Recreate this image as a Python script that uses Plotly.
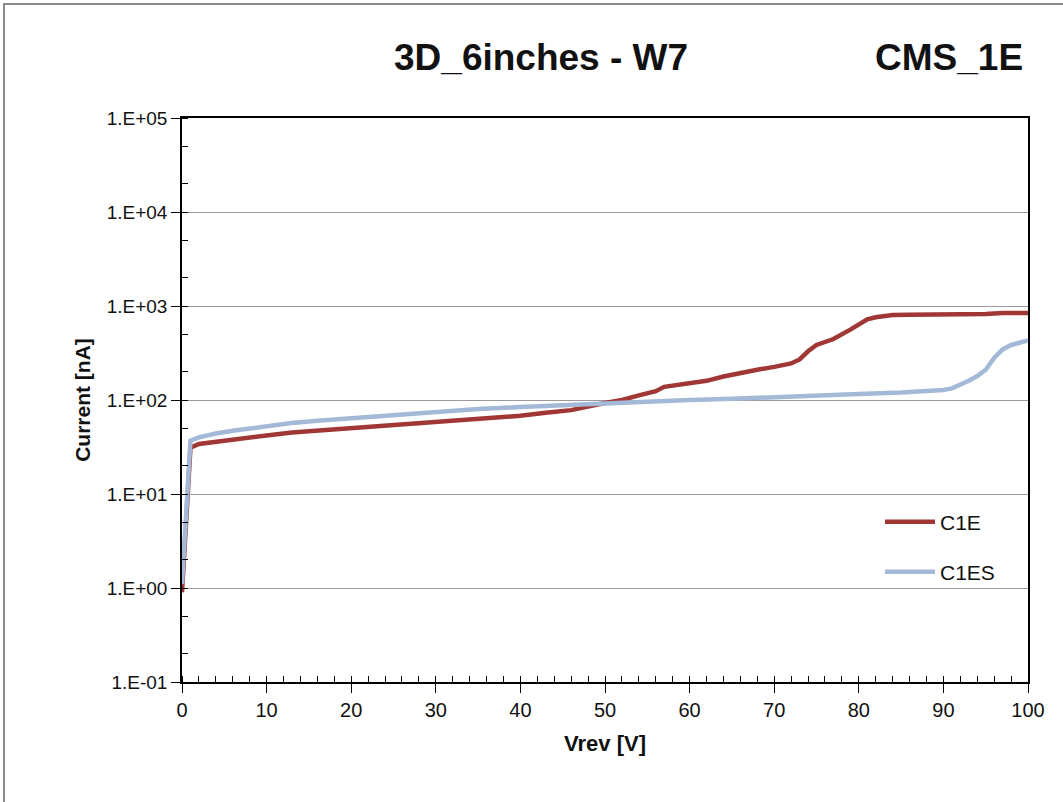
import plotly.graph_objects as go

# C1E
v_c1e = [0, 1, 2, 4, 6, 8, 10, 13, 16, 20, 25, 30, 35, 40, 43, 46, 50, 52, 54, 56,
         57, 60, 62, 64, 66, 68, 70, 72, 73, 74, 75, 77, 79, 80, 81, 82, 84, 86, 90,
         94, 95, 97, 100]
i_c1e = [0.9, 31, 34, 36, 38, 40, 42, 45, 47, 50, 54, 58, 63, 68, 73, 78, 93, 100, 112, 124,
         138, 150, 160, 178, 195, 210, 225, 245, 270, 330, 385, 445, 560, 640, 720, 760, 800, 805, 805,
         805, 820, 840, 845]

# C1ES
v_c1es = [0, 1, 2, 4, 6, 8, 10, 13, 16, 20, 25, 30, 35, 40, 45, 50, 55, 60, 65, 70, 75,
          80, 85, 88, 90, 91, 92, 93, 94, 95, 96, 97, 98, 99, 100]
i_c1es = [1.1, 37, 40, 44, 47, 50, 53, 57, 60, 64, 70, 75, 80, 84, 88, 93, 97, 100, 103, 108, 112,
          116, 120, 124, 128, 133, 145, 160, 180, 210, 280, 345, 385, 410, 430]

y_tickvals = [0.1, 1, 10, 100, 1000, 10000, 100000]
y_ticktext = ["1.E-01", "1.E+00", "1.E+01", "1.E+02", "1.E+03", "1.E+04", "1.E+05"]
x_tickvals = [0, 10, 20, 30, 40, 50, 60, 70, 80, 90, 100]

RED = "rgb(160,55,53)"
BLUE = "rgb(164,184,216)"
FONT = "Liberation Sans, Arial, sans-serif"

L, T, PW, PH = 182, 118, 846, 564

fig = go.Figure()
fig.add_trace(go.Scatter(x=v_c1e, y=i_c1e, mode="lines", name="C1E",
                         line=dict(color=RED, width=4.5), legend="legend"))
fig.add_trace(go.Scatter(x=v_c1es, y=i_c1es, mode="lines", name="C1ES",
                         line=dict(color=BLUE, width=4.5), legend="legend2"))

fig.update_layout(
    width=1063, height=802,
    margin=dict(l=L, r=1063 - L - PW, t=T, b=802 - T - PH),
    paper_bgcolor="white", plot_bgcolor="white",
    font=dict(family=FONT, size=18, color="#111"),
    showlegend=True,
    legend=dict(x=(880 - 182) / PW, y=(682 - 522) / PH, xanchor="left", yanchor="middle",
                itemwidth=50, bgcolor="rgba(0,0,0,0)", font=dict(size=21, color="#111")),
    legend2=dict(x=(880 - 182) / PW, y=(682 - 572) / PH, xanchor="left", yanchor="middle",
                 itemwidth=50, bgcolor="rgba(0,0,0,0)", font=dict(size=21, color="#111")),
    xaxis=dict(
        range=[0, 100], tickvals=x_tickvals, ticks="outside", ticklen=9,
        tickcolor="black", showline=True, linecolor="black", linewidth=1.5,
        mirror=True, showgrid=False, zeroline=False,
        minor=dict(dtick=2, ticks="inside", ticklen=6, tickcolor="black", showgrid=False),
        title=dict(text="<b>Vrev [V]</b>", font=dict(size=22), standoff=16),
        tickfont=dict(size=20),
    ),
    yaxis=dict(
        type="log", range=[-1, 5], tickvals=y_tickvals, ticktext=y_ticktext,
        ticks="outside", ticklen=9, tickcolor="black", showline=True,
        linecolor="black", linewidth=1.5, mirror=True,
        showgrid=True, gridcolor="#9a9a9a", gridwidth=1.2, zeroline=False,
        minor=dict(ticks="inside", ticklen=6, tickcolor="black", showgrid=False),
        title=dict(text="<b>Current [nA]</b>", font=dict(size=21), standoff=10),
        tickfont=dict(size=19),
    ),
    annotations=[
        dict(text="<b>3D_6inches - W7</b>", xref="paper", yref="paper",
             x=(541 - 182) / PW, y=(682 - 58) / PH, xanchor="center", yanchor="middle",
             showarrow=False, font=dict(size=37, family=FONT, color="#111")),
        dict(text="<b>CMS_1E</b>", xref="paper", yref="paper",
             x=(949 - 182) / PW, y=(682 - 58) / PH, xanchor="center", yanchor="middle",
             showarrow=False, font=dict(size=37, family=FONT, color="#111")),
    ],
    shapes=[
        dict(type="rect", xref="paper", yref="paper",
             x0=(4 - 182) / PW, x1=(1090 - 182) / PW,
             y0=(682 - 830) / PH, y1=(682 - 4) / PH,
             line=dict(color="#8c8c8c", width=2), layer="below"),
    ],
)

fig.write_html("out.html", config={"displayModeBar": False},
               post_script="document.body.style.margin='0';document.body.style.padding='0';")
